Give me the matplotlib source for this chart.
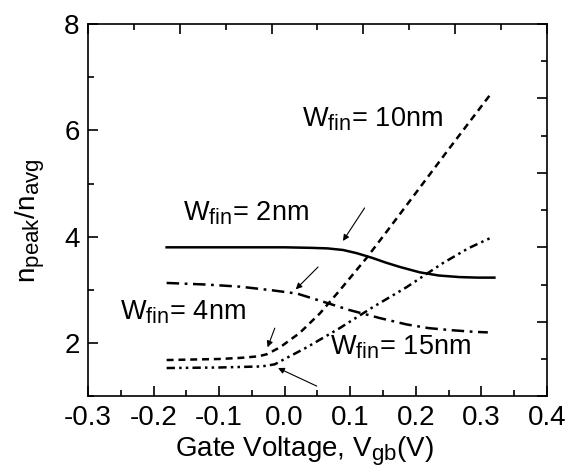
import matplotlib
matplotlib.use("Agg")
import matplotlib.pyplot as plt
import matplotlib._mathtext as mathtext_core

plt.rcParams['font.family'] = ['Liberation Sans', 'DejaVu Sans']
plt.rcParams['mathtext.fontset'] = 'custom'
plt.rcParams['mathtext.rm'] = 'Liberation Sans'
plt.rcParams['mathtext.it'] = 'Liberation Sans'
plt.rcParams['lines.scale_dashes'] = False
# bigger subscripts
mathtext_core.SHRINK_FACTOR = 0.8

# n_peak/n_avg vs gate voltage for each fin width
v_2nm = [-0.18, -0.10, -0.05, 0.00, 0.040, 0.065, 0.089, 0.110, 0.134, 0.155, 0.176, 0.206, 0.235, 0.267, 0.295, 0.320]
n_2nm = [3.80, 3.80, 3.80, 3.80, 3.79, 3.78, 3.75, 3.69, 3.60, 3.51, 3.43, 3.33, 3.27, 3.24, 3.23, 3.23]

v_4nm = [-0.18, -0.12, -0.068, -0.018, 0.019, 0.058, 0.099, 0.145, 0.186, 0.220, 0.256, 0.290, 0.310]
n_4nm = [3.13, 3.10, 3.06, 2.99, 2.93, 2.78, 2.62, 2.47, 2.35, 2.28, 2.24, 2.21, 2.20]

v_10nm = [-0.18, -0.10, -0.068, -0.040, -0.027, -0.007, 0.023, 0.054, 0.084, 0.125, 0.156, 0.200, 0.250, 0.313]
n_10nm = [1.68, 1.70, 1.72, 1.75, 1.79, 1.92, 2.19, 2.56, 2.99, 3.60, 4.10, 4.82, 5.64, 6.66]

v_15nm = [-0.18, -0.10, -0.068, -0.035, -0.015, -0.003, 0.034, 0.084, 0.134, 0.186, 0.241, 0.280, 0.313]
n_15nm = [1.53, 1.54, 1.55, 1.56, 1.60, 1.68, 1.92, 2.28, 2.67, 3.05, 3.50, 3.78, 3.97]

fig = plt.figure(figsize=(5.75, 4.7), dpi=100)
pos = [0.153, 0.157, 0.798, 0.792]
ax = fig.add_axes(pos)

ax.plot(v_2nm, n_2nm, color='black', lw=1.8, ls='-')
ax.plot(v_4nm, n_4nm, color='black', lw=1.8, ls=(0, (9, 4, 2, 4)))
ax.plot(v_10nm, n_10nm, color='black', lw=1.8, ls=(0, (5, 3.5)))
ax.plot(v_15nm, n_15nm, color='black', lw=1.8, ls=(0, (6, 3, 1.8, 3, 1.8, 3)))

ax.set_xlim(-0.3, 0.4)
ax.set_ylim(1, 8)
ax.set_xticks([-0.3, -0.2, -0.1, 0.0, 0.1, 0.2, 0.3, 0.4])
ax.set_xticklabels(['-0.3', '-0.2', '-0.1', '0.0', '0.1', '0.2', '0.3', '0.4'])
ax.set_xticks([-0.25, -0.15, -0.05, 0.05, 0.15, 0.25, 0.35], minor=True)
ax.set_yticks([2, 4, 6, 8])
ax.set_yticks([1, 3, 5, 7], minor=True)
ax.tick_params(which='both', direction='in', labelsize=20, width=1.2)
ax.tick_params(which='major', length=7, pad=6)
ax.tick_params(which='minor', length=4)
for s in ax.spines.values():
    s.set_linewidth(1.2)

ax.set_xlabel('Gate Voltage, V$_{\\mathrm{gb}}$(V)', fontsize=20)
ax.set_ylabel('n$_{\\mathrm{peak}}$/n$_{\\mathrm{avg}}$', fontsize=20)
ax.xaxis.set_label_coords(0.472, -0.103)
ax.yaxis.set_label_coords(-0.09, 0.47)

# top and right ticks on their own scale
ax2 = fig.add_axes(pos, frameon=False)
ax2.set_xlim(0, 10)
ax2.set_ylim(0, 10)
ax2.xaxis.tick_top()
ax2.yaxis.tick_right()
ax2.set_xticks([0, 2, 4, 6, 8, 10])
ax2.set_xticks([1, 3, 5, 7, 9], minor=True)
ax2.set_yticks([0, 2, 4, 6, 8, 10])
ax2.set_yticks([1, 3, 5, 7, 9], minor=True)
ax2.tick_params(which='both', direction='in', labeltop=False, labelright=False, width=1.2)
ax2.tick_params(which='major', length=7)
ax2.tick_params(which='minor', length=4)
ax2.patch.set_alpha(0)

fs = 19.5
ax.text(0.026, 6.2, 'W$_{\\mathrm{fin}}$= 10nm', fontsize=fs, va='center')
ax.text(-0.155, 4.44, 'W$_{\\mathrm{fin}}$= 2nm', fontsize=fs, va='center')
ax.text(-0.251, 2.58, 'W$_{\\mathrm{fin}}$= 4nm', fontsize=fs, va='center')
ax.text(0.069, 1.92, 'W$_{\\mathrm{fin}}$= 15nm', fontsize=fs, va='center')

arrow = dict(arrowstyle='-|>', color='black', lw=0.8, mutation_scale=9, shrinkA=0, shrinkB=0)
ax.annotate('', xy=(0.089, 3.92), xytext=(0.122, 4.54), arrowprops=arrow)
ax.annotate('', xy=(0.017, 3.01), xytext=(0.051, 3.43), arrowprops=arrow)
ax.annotate('', xy=(-0.026, 1.92), xytext=(-0.015, 2.28), arrowprops=arrow)
ax.annotate('', xy=(-0.01, 1.53), xytext=(0.049, 1.19), arrowprops=arrow)

fig.savefig('out.png', dpi=100)
